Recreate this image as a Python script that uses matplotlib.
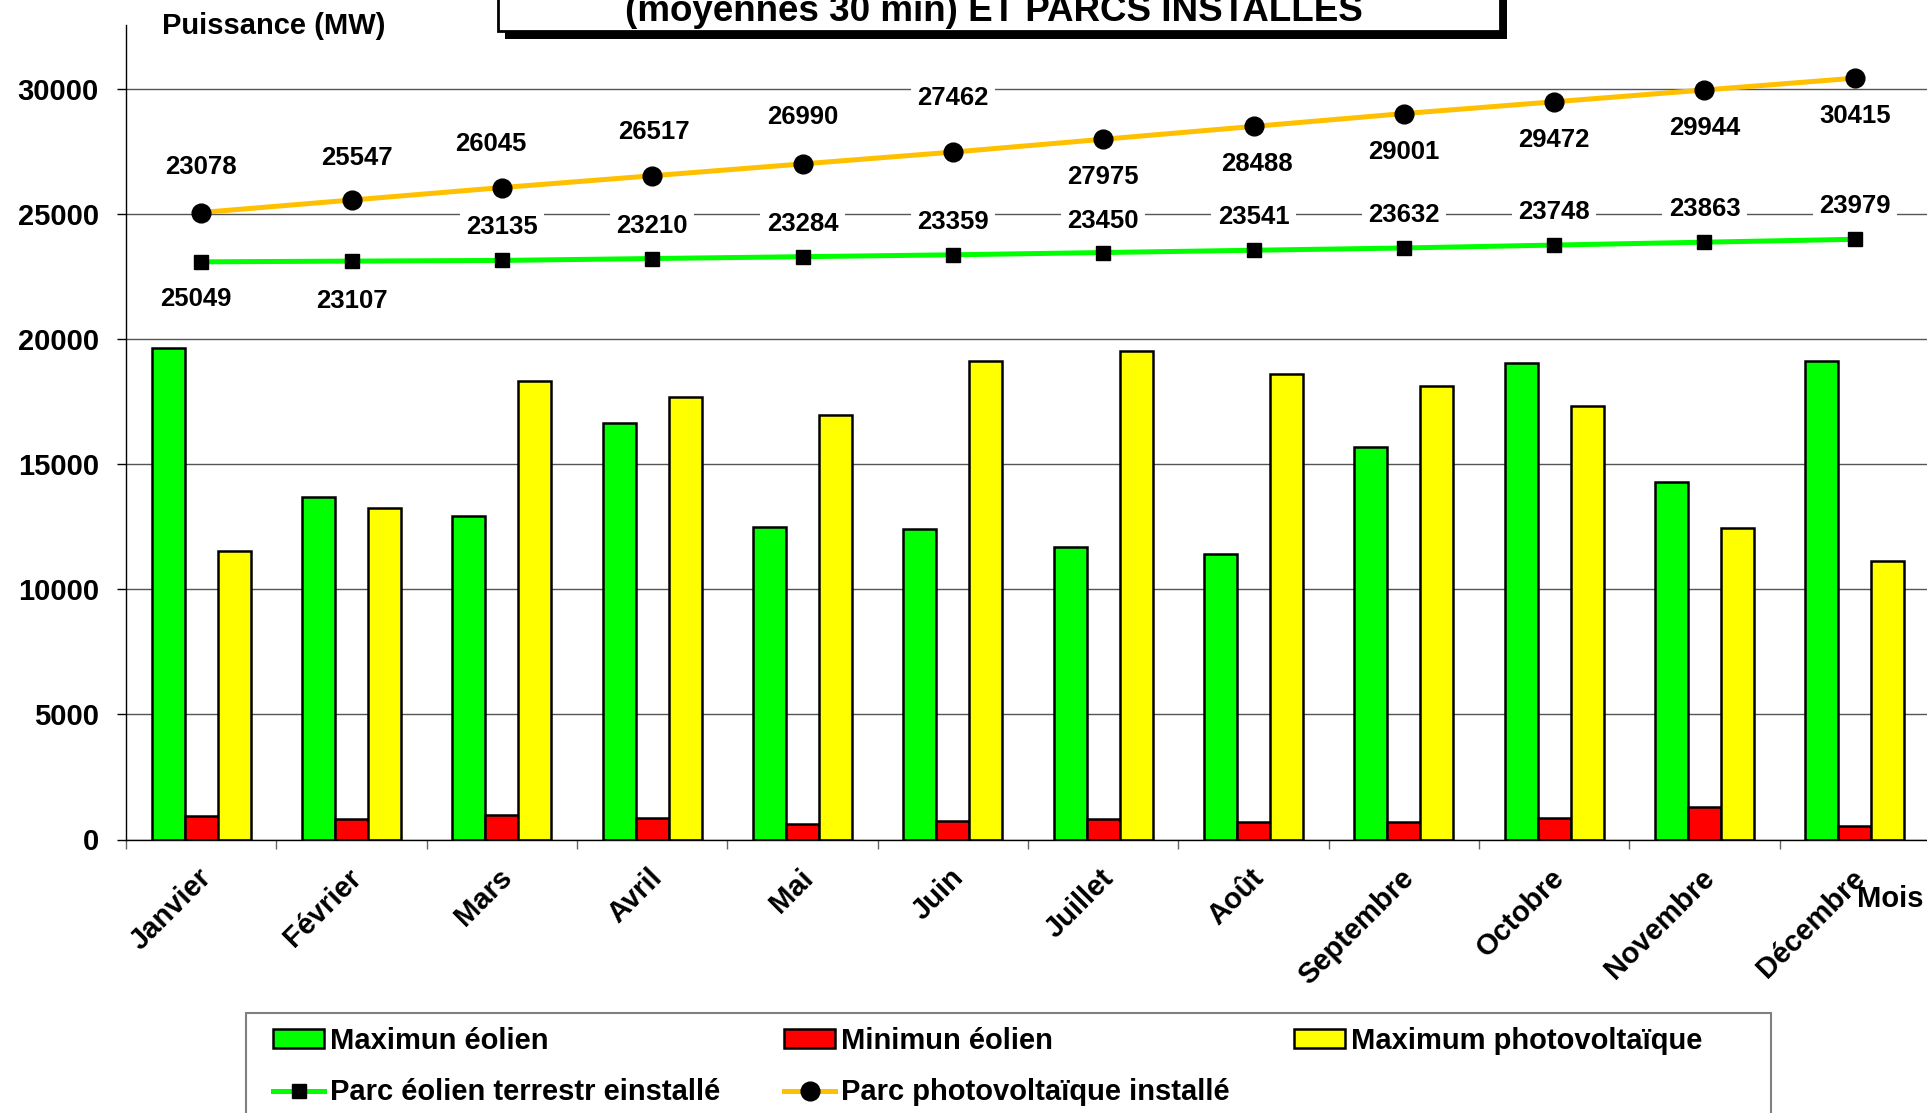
import numpy as np
import matplotlib
matplotlib.use("Agg")
import matplotlib.pyplot as plt
import matplotlib.transforms as mtransforms
from matplotlib.patches import Rectangle, Patch
from matplotlib.lines import Line2D

plt.rcParams['font.family'] = ['Liberation Sans', 'DejaVu Sans']
plt.rcParams['font.weight'] = 'bold'

mois = ["Janvier", "Février", "Mars", "Avril", "Mai", "Juin", "Juillet",
        "Août", "Septembre", "Octobre", "Novembre", "Décembre"]
max_eolien = [19630, 13690, 12930, 16640, 12480, 12410, 11690, 11420, 15680, 19040, 14290, 19120]
min_eolien = [920, 825, 980, 850, 605, 757, 810, 715, 690, 850, 1310, 535]
max_pv = [11540, 13230, 18320, 17690, 16950, 19120, 19520, 18580, 18120, 17330, 12430, 11130]
parc_eolien = [23078, 23107, 23135, 23210, 23284, 23359, 23450, 23541, 23632, 23748, 23863, 23979]
parc_pv = [25049, 25547, 26045, 26517, 26990, 27462, 27975, 28488, 29001, 29472, 29944, 30415]

# decalage des etiquettes (pixels, vers le bas = +)
pv_dx = [0, 5, -11, 2, 0, 0, 0, 3, 0, 0, 0, 0]
pv_dy = [-46, -42, -44, -44, -47, -54, 38, 38, 38, 38, 38, 38]
eol_dx = [-5, 0, 0, 0, 0, 0, 0, 0, 0, 0, 0, 0]
eol_dy = [37, 40, -33, -33, -33, -33, -32, -33, -33, -33, -33, -33]

W, H = 1927, 1113
def fx(px):
    return px / W
def fy(py):
    return 1 - py / H

fig = plt.figure(figsize=(W / 100, H / 100), dpi=100)
ax = fig.add_axes([fx(126), fy(839.5), (1930 - 126) / W, (839.5 - 25) / H])

x = np.arange(len(mois))
w = 0.22
ax.bar(x - w, max_eolien, w, color='#00FF00', edgecolor='black', linewidth=1.8, zorder=2)
ax.bar(x, min_eolien, w, color='#FF0000', edgecolor='black', linewidth=1.8, zorder=2)
ax.bar(x + w, max_pv, w, color='#FFFF00', edgecolor='black', linewidth=1.8, zorder=2)

ax.plot(x, parc_eolien, color='#00FF00', lw=3.6, marker='s', ms=10,
        mfc='black', mec='black', zorder=4)
ax.plot(x, parc_pv, color='#FFC000', lw=3.6, marker='o', ms=13.5,
        mfc='black', mec='black', zorder=4)

# etiquettes (janvier inversé comme dans l'original)
pv_txt = [str(v) for v in parc_pv]
eol_txt = [str(v) for v in parc_eolien]
pv_txt[0], eol_txt[0] = eol_txt[0], pv_txt[0]

box = dict(boxstyle='square,pad=0.25', fc='white', ec='none')
for i in range(len(mois)):
    ax.annotate(pv_txt[i], (x[i], parc_pv[i]), xytext=(pv_dx[i] * 0.72, -pv_dy[i] * 0.72),
                textcoords='offset points', ha='center', va='center', fontsize=18.5,
                fontweight='bold', bbox=box, zorder=5)
    ax.annotate(eol_txt[i], (x[i], parc_eolien[i]), xytext=(eol_dx[i] * 0.72, -eol_dy[i] * 0.72),
                textcoords='offset points', ha='center', va='center', fontsize=18.5,
                fontweight='bold', bbox=box, zorder=5)

ax.set_xlim(-0.5, 11.5)
ax.set_ylim(0, 32540)
ax.set_yticks(range(0, 30001, 5000))
ax.yaxis.grid(True, color='#555555', lw=1.0)
ax.set_axisbelow(True)
for s in ['top', 'right']:
    ax.spines[s].set_visible(False)
ax.spines['left'].set_linewidth(1.0)
ax.spines['bottom'].set_linewidth(1.0)

ax.set_xticks(x)
ax.set_xticklabels(mois, rotation=45, ha='right', va='center', rotation_mode='anchor',
                   fontsize=21, fontweight='bold')
ax.set_xticks(np.arange(-0.5, 12, 1), minor=True)
ax.tick_params(axis='x', which='major', length=0, pad=24.5)
ax.tick_params(axis='x', which='minor', length=6.5, width=1, color='#666666', direction='out')
offset = mtransforms.ScaledTranslation(0.06, 0, fig.dpi_scale_trans)
for lab in ax.get_xticklabels():
    lab.set_transform(lab.get_transform() + offset)
ax.tick_params(axis='y', length=6.5, width=1, pad=13, labelsize=21)

fig.text(fx(162), fy(26), "Puissance (MW)", ha='left', va='center', fontsize=21, fontweight='bold')
fig.text(fx(1857), fy(907), "Mois", ha='left', va='baseline', fontsize=21, fontweight='bold')

# cadre du titre (coupé en haut comme l'original)
fig.add_artist(Rectangle((fx(505), fy(39)), (1507 - 505) / W, (39 + 60) / H,
                         transform=fig.transFigure, fc='black', ec='none'))
fig.add_artist(Rectangle((fx(498), fy(31)), (1500 - 498) / W, (31 + 60) / H,
                         transform=fig.transFigure, fc='white', ec='black', lw=2))
fig.text(fx(994), fy(21), "(moyennes 30 min) ET PARCS INSTALLES", ha='center', va='baseline',
         fontsize=26.5, fontweight='bold')

# legende
handles = [Patch(fc='#00FF00', ec='black', lw=1.8),
           Line2D([], [], color='#00FF00', lw=3.6, marker='s', ms=10, mfc='black', mec='black'),
           Patch(fc='#FF0000', ec='black', lw=1.8),
           Line2D([], [], color='#FFC000', lw=3.6, marker='o', ms=13.5, mfc='black', mec='black'),
           Patch(fc='#FFFF00', ec='black', lw=1.8)]
labels = ["Maximun éolien", "Parc éolien terrestr einstallé", "Minimun éolien",
          "Parc photovoltaïque installé", "Maximum photovoltaïque"]
fig.legend(handles, labels, ncol=3, loc='upper left', bbox_to_anchor=(fx(273), fy(1027)),
           frameon=False, borderpad=0, borderaxespad=0, handlelength=1.75, handleheight=0.6,
           handletextpad=0.2, columnspacing=2.2, labelspacing=0.8,
           prop={'size': 21, 'weight': 'bold'})
fig.add_artist(Rectangle((fx(246), fy(1140)), (1771 - 246) / W, (1140 - 1013) / H,
                         transform=fig.transFigure, fill=False, ec='#808080', lw=1.5))

fig.savefig("out.png", dpi=100)
